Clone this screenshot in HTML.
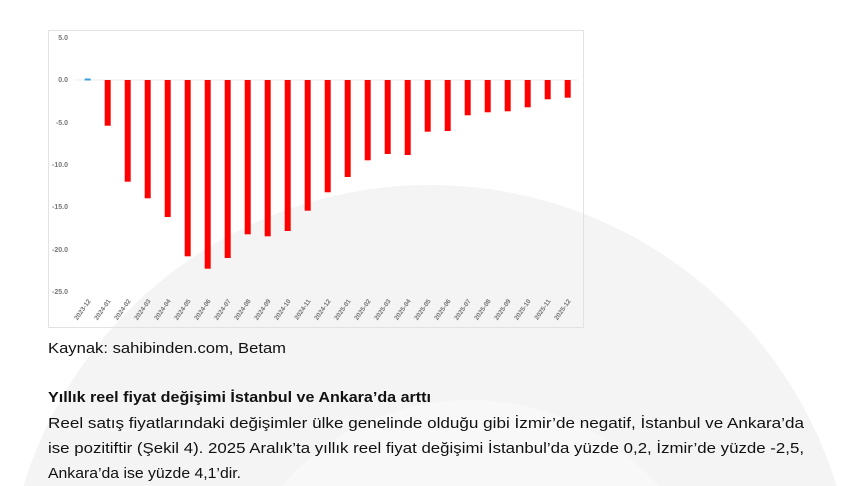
<!DOCTYPE html>
<html><head><meta charset="utf-8"><style>
html,body{margin:0;padding:0;background:#fff;width:841px;height:486px;overflow:hidden}
svg{display:block}
</style></head><body>
<svg width="841" height="486" viewBox="0 0 841 486" xmlns="http://www.w3.org/2000/svg" font-family="Liberation Sans, sans-serif">
<defs><clipPath id="c"><rect x="0" y="0" width="841" height="486"/></clipPath></defs>
<g clip-path="url(#c)">
<circle cx="430" cy="610" r="425" fill="#f4f4f4"/>
<circle cx="470" cy="650" r="250" fill="#f8f8f8"/>
</g>
<rect x="48.5" y="30.5" width="535" height="297" fill="none" stroke="#e2e2e2"/>
<g font-size="7" font-weight="bold" fill="#777" text-anchor="end">
<text x="68" y="40">5.0</text>
<text x="68" y="82">0.0</text>
<text x="68" y="125">-5.0</text>
<text x="68" y="167">-10.0</text>
<text x="68" y="209">-15.0</text>
<text x="68" y="252">-20.0</text>
<text x="68" y="294">-25.0</text>
</g>
<line x1="74" y1="80" x2="578" y2="80" stroke="#eee"/>
<rect x="84.7" y="78.5" width="6" height="2" fill="#3aa0e0"/>
<g fill="#ff0000">
<rect x="104.7" y="80" width="6" height="45.7"/>
<rect x="124.7" y="80" width="6" height="101.7"/>
<rect x="144.7" y="80" width="6" height="118.3"/>
<rect x="164.7" y="80" width="6" height="137"/>
<rect x="184.7" y="80" width="6" height="176.3"/>
<rect x="204.7" y="80" width="6" height="188.7"/>
<rect x="224.7" y="80" width="6" height="178"/>
<rect x="244.7" y="80" width="6" height="154.3"/>
<rect x="264.7" y="80" width="6" height="156.3"/>
<rect x="284.7" y="80" width="6" height="151"/>
<rect x="304.7" y="80" width="6" height="130.7"/>
<rect x="324.7" y="80" width="6" height="112.3"/>
<rect x="344.7" y="80" width="6" height="97"/>
<rect x="364.7" y="80" width="6" height="80.3"/>
<rect x="384.7" y="80" width="6" height="74"/>
<rect x="404.7" y="80" width="6" height="75"/>
<rect x="424.7" y="80" width="6" height="51.7"/>
<rect x="444.7" y="80" width="6" height="51"/>
<rect x="464.7" y="80" width="6" height="35.3"/>
<rect x="484.7" y="80" width="6" height="32.3"/>
<rect x="504.7" y="80" width="6" height="31.3"/>
<rect x="524.7" y="80" width="6" height="27.3"/>
<rect x="544.7" y="80" width="6" height="19.3"/>
<rect x="564.7" y="80" width="6" height="17.7"/>
</g>
<g font-size="6.5" font-weight="bold" fill="#777" text-anchor="end">
<text transform="translate(91,301) rotate(-55)">2023-12</text>
<text transform="translate(111,301) rotate(-55)">2024-01</text>
<text transform="translate(131,301) rotate(-55)">2024-02</text>
<text transform="translate(151,301) rotate(-55)">2024-03</text>
<text transform="translate(171,301) rotate(-55)">2024-04</text>
<text transform="translate(191,301) rotate(-55)">2024-05</text>
<text transform="translate(211,301) rotate(-55)">2024-06</text>
<text transform="translate(231,301) rotate(-55)">2024-07</text>
<text transform="translate(251,301) rotate(-55)">2024-08</text>
<text transform="translate(271,301) rotate(-55)">2024-09</text>
<text transform="translate(291,301) rotate(-55)">2024-10</text>
<text transform="translate(311,301) rotate(-55)">2024-11</text>
<text transform="translate(331,301) rotate(-55)">2024-12</text>
<text transform="translate(351,301) rotate(-55)">2025-01</text>
<text transform="translate(371,301) rotate(-55)">2025-02</text>
<text transform="translate(391,301) rotate(-55)">2025-03</text>
<text transform="translate(411,301) rotate(-55)">2025-04</text>
<text transform="translate(431,301) rotate(-55)">2025-05</text>
<text transform="translate(451,301) rotate(-55)">2025-06</text>
<text transform="translate(471,301) rotate(-55)">2025-07</text>
<text transform="translate(491,301) rotate(-55)">2025-08</text>
<text transform="translate(511,301) rotate(-55)">2025-09</text>
<text transform="translate(531,301) rotate(-55)">2025-10</text>
<text transform="translate(551,301) rotate(-55)">2025-11</text>
<text transform="translate(571,301) rotate(-55)">2025-12</text>
</g>
<g font-size="15" fill="#111">
<text x="48" y="353" textLength="238" lengthAdjust="spacingAndGlyphs">Kaynak: sahibinden.com, Betam</text>
<text x="48" y="402" font-weight="bold" textLength="383" lengthAdjust="spacingAndGlyphs">Yıllık reel fiyat değişimi İstanbul ve Ankara’da arttı</text>
<text x="48" y="428" textLength="756" lengthAdjust="spacingAndGlyphs">Reel satış fiyatlarındaki değişimler ülke genelinde olduğu gibi İzmir’de negatif, İstanbul ve Ankara’da</text>
<text x="48" y="453" textLength="756" lengthAdjust="spacingAndGlyphs">ise pozitiftir (Şekil 4). 2025 Aralık’ta yıllık reel fiyat değişimi İstanbul’da yüzde 0,2, İzmir’de yüzde -2,5,</text>
<text x="48" y="478" textLength="193" lengthAdjust="spacingAndGlyphs">Ankara’da ise yüzde 4,1’dir.</text>
</g>
</svg>
</body></html>
